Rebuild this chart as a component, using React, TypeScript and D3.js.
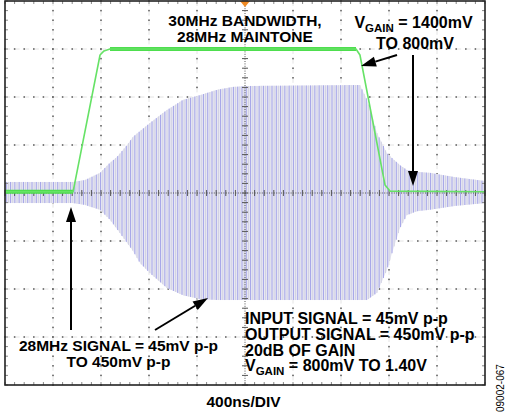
import React from 'react';
import * as d3 from 'd3';

// ---------- data ----------
const timeDivs = 10;
const nsPerDiv = 400;
const voltDivs = 8;
const blueMvPerDiv = 100; // channel 1 (output signal)
const greenVPerDiv = 0.2; // channel 2 (VGAIN)
const greenCenterV = 0.8;
const carrierMHz = 28;

// output signal envelope (half amplitude, mV)
const envTimeNs = [0, 567, 667, 792, 875, 933, 1017, 1067, 1125, 1208, 1350, 1483, 1625, 1767, 1900, 2042, 2958, 3017, 3100, 3183, 3233, 3292, 3350, 3433, 3542, 3750, 4000];
const envUpperMv = [23, 23, 27, 42, 63, 75, 100, 117, 129, 146, 173, 194, 204, 215, 221, 223, 225, 194, 125, 83, 71, 58, 48, 44, 42, 33, 25];
const envLowerMv = [21, 21, 25, 35, 56, 75, 104, 121, 146, 167, 198, 213, 221, 223, 223, 223, 223, 223, 208, 160, 119, 73, 46, 38, 35, 27, 21];

// VGAIN step
const vgainTimeNs = [0, 567, 792, 825, 875, 2925, 2958, 3167, 3208, 4000];
const vgainVolts = [0.805, 0.805, 1.375, 1.392, 1.4, 1.4, 1.375, 0.833, 0.808, 0.805];

const titleLines = ['30MHz BANDWIDTH,', '28MHz MAINTONE'];
const leftNote = ['28MHz SIGNAL = 45mV p-p', 'TO 450mV p-p'];
const rightNote = ['INPUT SIGNAL = 45mV p-p', 'OUTPUT SIGNAL = 450mV p-p', '20dB OF GAIN'];
const xLabel = '400ns/DIV';
const figId = '09002-067';

// ---------- layout ----------
const W = 505;
const H = 414;
const L = 5, R = 485, T = 1, B = 385;
const FONT = '"Liberation Sans", Arial, Helvetica, sans-serif';

export default function App() {
  const x = d3.scaleLinear().domain([0, timeDivs * nsPerDiv]).range([L, R]);
  const yBlue = d3.scaleLinear()
    .domain([-blueMvPerDiv * voltDivs / 2, blueMvPerDiv * voltDivs / 2])
    .range([B, T]);
  const yGreen = d3.scaleLinear()
    .domain([greenCenterV - greenVPerDiv * voltDivs / 2, greenCenterV + greenVPerDiv * voltDivs / 2])
    .range([B, T]);
  const upper = d3.scaleLinear().domain(envTimeNs).range(envUpperMv).clamp(true);
  const lower = d3.scaleLinear().domain(envTimeNs).range(envLowerMv).clamp(true);

  const cx = x(timeDivs * nsPerDiv / 2);
  const cy = yBlue(0);
  const divW = (R - L) / timeDivs;
  const divH = (B - T) / voltDivs;

  const fineT = d3.range(0, timeDivs * nsPerDiv + 1, 10);
  const area = d3.area<number>()
    .x(t => x(t))
    .y0(t => yBlue(-lower(t)))
    .y1(t => yBlue(upper(t)))
    .curve(d3.curveMonotoneX);

  const period = 1000 / carrierMHz;
  const cycles = d3.range(period * 0.3, timeDivs * nsPerDiv, period);
  const halfCycles = d3.range(period * 0.8, timeDivs * nsPerDiv, period);

  const gLine = d3.line<number>()
    .x((_, i) => x(vgainTimeNs[i]))
    .y(v => yGreen(v))
    .curve(d3.curveLinear);
  const flatSegs: number[][] = [];
  for (let i = 0; i < vgainVolts.length - 1; i++) {
    if (Math.abs(vgainVolts[i] - vgainVolts[i + 1]) < 1e-6) flatSegs.push([i, i + 1]);
  }

  const vLines = d3.range(1, timeDivs).filter(i => i !== timeDivs / 2).map(i => L + i * divW);
  const hLines = d3.range(1, voltDivs).filter(i => i !== voltDivs / 2).map(i => T + i * divH);
  const minorX = d3.range(0, timeDivs * 5 + 1).map(k => L + k * divW / 5);
  const minorY = d3.range(0, voltDivs * 5 + 1).map(k => T + k * divH / 5);

  const arrow = (x1: number, y1: number, x2: number, y2: number, key: string) => {
    const a = Math.atan2(y2 - y1, x2 - x1);
    const len = 15, hw = 5;
    const bx = x2 - len * Math.cos(a), by = y2 - len * Math.sin(a);
    const px = -Math.sin(a) * hw, py = Math.cos(a) * hw;
    return (
      <g key={key}>
        <line x1={x1} y1={y1} x2={bx} y2={by} stroke="#000" strokeWidth={2} />
        <path d={`M${x2},${y2}L${bx + px},${by + py}L${bx - px},${by - py}Z`} fill="#000" />
      </g>
    );
  };

  const textStyle = { fontFamily: FONT, fontWeight: 700 as const, fontSize: 16, fill: '#000' };
  const titleStyle = { ...textStyle, fontSize: 15.5 };

  return (
    <svg width={W} height={H} style={{ position: 'absolute', left: 0, top: 0, background: '#fff' }}>
      <rect x={0} y={0} width={W} height={H} fill="#fff" />
      <g>
        {vLines.map(v => (
          <g key={'v' + v}>
            <line x1={v} x2={v} y1={T} y2={B} stroke="#e4e4e4" strokeWidth={1} strokeDasharray="5 4.6" />
            {minorY.map(m => <rect key={m} x={v - 0.75} y={m - 0.75} width={1.5} height={1.5} fill="#555" />)}
          </g>
        ))}
        {hLines.map(h => (
          <g key={'h' + h}>
            <line x1={L} x2={R} y1={h} y2={h} stroke="#e4e4e4" strokeWidth={1} strokeDasharray="5 4.6" />
            {minorX.map(m => <rect key={m} x={m - 0.75} y={h - 0.75} width={1.5} height={1.5} fill="#555" />)}
          </g>
        ))}
      </g>
      <path d={area(fineT) || ''} fill="#e8e8f3" />
      <g>
        {halfCycles.map(t => (
          <line key={'h' + t} x1={x(t)} x2={x(t)} y1={yBlue(-lower(t))} y2={yBlue(upper(t))} stroke="#d2d2e2" strokeWidth={1} />
        ))}
        {cycles.map(t => (
          <line key={'c' + t} x1={x(t)} x2={x(t)} y1={yBlue(-lower(t))} y2={yBlue(upper(t))} stroke="#a4a4e8" strokeWidth={1} />
        ))}
      </g>
      <line x1={L} x2={R} y1={cy} y2={cy} stroke="#555" strokeWidth={1} strokeDasharray="1 1.4" />
      <line x1={cx} x2={cx} y1={T} y2={B} stroke="#555" strokeWidth={1} strokeDasharray="1 1.4" />
      {minorX.map(m => <line key={'tx' + m} x1={m} x2={m} y1={cy - 3} y2={cy + 3} stroke="#555" strokeWidth={1} />)}
      {minorY.map(m => <line key={'ty' + m} x1={cx - 3} x2={cx + 3} y1={m} y2={m} stroke="#555" strokeWidth={1} />)}
      {minorX.map(m => (
        <g key={'fx' + m}>
          <line x1={m} x2={m} y1={T} y2={T + 3} stroke="#888" strokeWidth={1} />
          <line x1={m} x2={m} y1={B - 3} y2={B} stroke="#888" strokeWidth={1} />
        </g>
      ))}
      {minorY.map(m => (
        <g key={'fy' + m}>
          <line x1={L} x2={L + 3} y1={m} y2={m} stroke="#888" strokeWidth={1} />
          <line x1={R - 3} x2={R} y1={m} y2={m} stroke="#888" strokeWidth={1} />
        </g>
      ))}
      {flatSegs.map(([a, b]) => (
        <line key={'f' + a} x1={x(vgainTimeNs[a])} x2={x(vgainTimeNs[b])} y1={yGreen(vgainVolts[a])} y2={yGreen(vgainVolts[b])} stroke="#4ede4e" strokeWidth={4} />
      ))}
      <path d={gLine(vgainVolts) || ''} fill="none" stroke="#66e266" strokeWidth={1.6} strokeLinejoin="round" />
      <path d={`M${cx - 5},${T}L${cx + 5},${T}L${cx},${T + 6}Z`} fill="#f08a24" />
      <rect x={L} y={T} width={R - L} height={B - T} fill="none" stroke="#222" strokeWidth={1.6} />
      <text x={cx} y={26} textAnchor="middle" style={titleStyle}>{titleLines[0]}</text>
      <text x={cx} y={41.5} textAnchor="middle" style={titleStyle}>{titleLines[1]}</text>
      <text x={413.5} y={28} textAnchor="middle" style={textStyle}>
        V<tspan dy={4} fontSize={11.5}>GAIN</tspan><tspan dy={-4}> = 1400mV</tspan>
      </text>
      <text x={415} y={49} textAnchor="middle" style={textStyle}>TO 800mV</text>
      <text x={118.5} y={351} textAnchor="middle" style={titleStyle}>{leftNote[0]}</text>
      <text x={118.5} y={366.5} textAnchor="middle" style={titleStyle}>{leftNote[1]}</text>
      {rightNote.map((s, i) => (
        <text key={s} x={245} y={[324, 340, 355.5][i]} style={textStyle}>{s}</text>
      ))}
      <text x={245} y={371} style={textStyle}>
        V<tspan dy={4} fontSize={11.5}>GAIN</tspan><tspan dy={-4}> = 800mV TO 1.40V</tspan>
      </text>
      <text x={243.5} y={407} textAnchor="middle" style={{ ...textStyle, fontSize: 15.5 }}>{xLabel}</text>
      <text transform="translate(504,412) rotate(-90)" style={{ fontFamily: FONT, fontSize: 10, fill: '#000' }}>{figId}</text>
      {arrow(413, 55, 413, 186, 'a1')}
      {arrow(397, 55, 361, 66, 'a2')}
      {arrow(71, 330, 71, 207, 'a3')}
      {arrow(155, 330, 208, 298, 'a4')}
    </svg>
  );
}
